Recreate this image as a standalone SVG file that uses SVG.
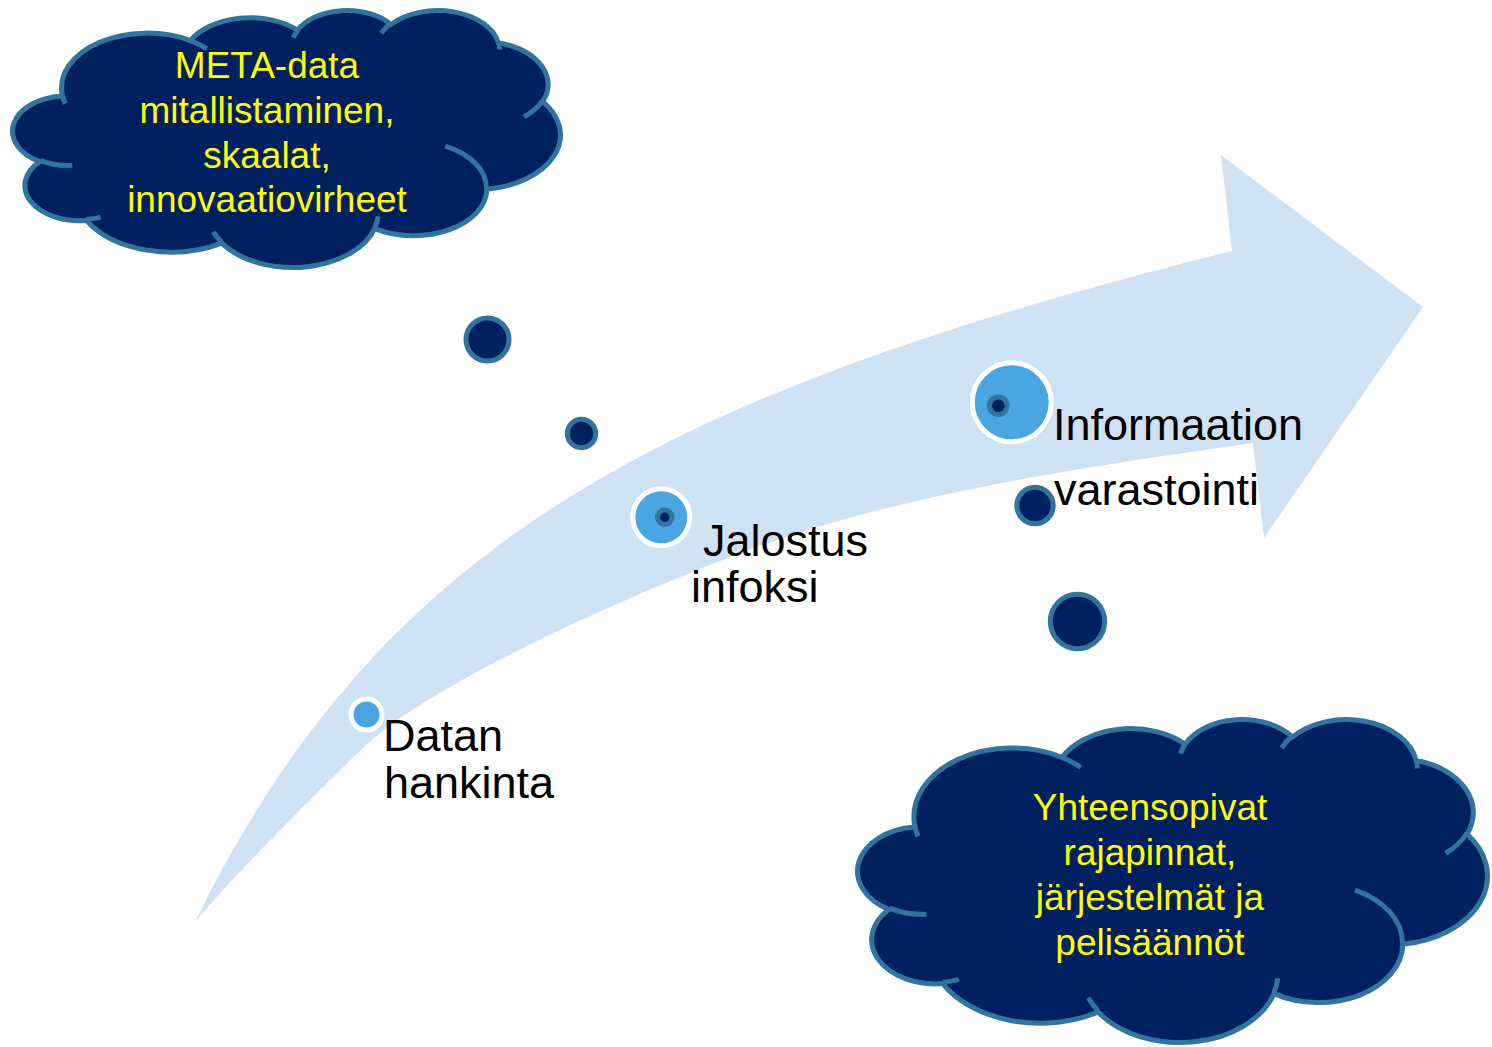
<svg xmlns="http://www.w3.org/2000/svg" width="1492" height="1047" viewBox="0 0 1492 1047">
  <style>
    .cloud { fill: #002060; stroke: #31759F; stroke-width: 5; vector-effect: non-scaling-stroke; }
    .cloudline { fill: none; stroke: #31759F; stroke-width: 5; vector-effect: non-scaling-stroke; }
    .ctext { font-family: "Liberation Sans", Arial, sans-serif; font-size: 37px; fill: #FFFF00; text-anchor: middle; }
    .label { font-family: "Liberation Sans", Arial, sans-serif; font-size: 45px; fill: #000000; }
    .dark { fill: #002060; stroke: #31759F; stroke-width: 5; }
    .light { fill: #4AA6E0; stroke: #FFFFFF; stroke-width: 5; }
  </style>

  <g id="arrow">
    <path fill="#CFE2F3" d="M195,922 C382,540 665,392 1232,251 L1221,155 L1423,307 L1264,538 L1253,443 C1079.8,468.2 893.1,493.7 730,557 C608.8,604.1 427.8,685.9 363,748 C319.8,789.4 233.4,875.8 195,922 Z"/>
  </g>

  <g id="connectors"></g>

  <g id="cloud-meta">
    <g transform="translate(12.94,9.67) scale(0.012668,0.0059464)">
      <path class="cloud" d="M3900,14370 A6753,9190 0 0 1 14005,5203 A5333,7267 0 0 1 22458,3432 A4365,5945 0 0 1 29835,2480 A4857,6595 0 0 1 38320,5576 A5333,7273 0 0 1 41820,15460 A6775,9220 0 0 1 37407,30204 A5785,7867 0 0 1 28558,36814 A6752,9215 0 0 1 16484,39267 A7720,10543 0 0 1 5807,35472 A4360,5918 0 0 1 2114,25552 A4345,5945 0 0 1 3864,14508 Z"/>
      <path class="cloudline" d="M4693,26177 A4345,5945 0 0 1 2160,25380 M6928,34899 A4360,5918 0 0 1 5820,35280 M16478,39090 A6752,9215 0 0 1 15809,37348 M28827,34751 A6752,9215 0 0 1 28560,36660 M34129,22954 A5785,7867 0 0 1 37381,30090 M41798,15354 A5333,7273 0 0 1 40349,18031 M38324,5426 A4857,6595 0 0 1 38400,6690 M29078,3952 A4857,6595 0 0 1 29821,2338 M22141,4720 A4365,5945 0 0 1 22500,3331 M14000,5192 A6753,9190 0 0 1 15301,6542 M4127,15789 A6753,9190 0 0 1 3900,14371"/>
    </g>
    <text class="ctext" x="267" y="78">META-data</text>
    <text class="ctext" x="267" y="123">mitallistaminen,</text>
    <text class="ctext" x="267" y="168">skaalat,</text>
    <text class="ctext" x="267" y="212">innovaatiovirheet</text>
  </g>

  <g id="cloud-yhteensopivat">
    <g transform="translate(858,718.5) scale(0.014564,0.0074736)">
      <path class="cloud" d="M3900,14370 A6753,9190 0 0 1 14005,5203 A5333,7267 0 0 1 22458,3432 A4365,5945 0 0 1 29835,2480 A4857,6595 0 0 1 38320,5576 A5333,7273 0 0 1 41820,15460 A6775,9220 0 0 1 37407,30204 A5785,7867 0 0 1 28558,36814 A6752,9215 0 0 1 16484,39267 A7720,10543 0 0 1 5807,35472 A4360,5918 0 0 1 2114,25552 A4345,5945 0 0 1 3864,14508 Z"/>
      <path class="cloudline" d="M4693,26177 A4345,5945 0 0 1 2160,25380 M6928,34899 A4360,5918 0 0 1 5820,35280 M16478,39090 A6752,9215 0 0 1 15809,37348 M28827,34751 A6752,9215 0 0 1 28560,36660 M34129,22954 A5785,7867 0 0 1 37381,30090 M41798,15354 A5333,7273 0 0 1 40349,18031 M38324,5426 A4857,6595 0 0 1 38400,6690 M29078,3952 A4857,6595 0 0 1 29821,2338 M22141,4720 A4365,5945 0 0 1 22500,3331 M14000,5192 A6753,9190 0 0 1 15301,6542 M4127,15789 A6753,9190 0 0 1 3900,14371"/>
    </g>
    <text class="ctext" x="1150" y="820">Yhteensopivat</text>
    <text class="ctext" x="1150" y="865">rajapinnat,</text>
    <text class="ctext" x="1150" y="910">järjestelmät ja</text>
    <text class="ctext" x="1150" y="955">pelisäännöt</text>
  </g>

  <g id="dot-1"><circle class="dark" cx="487.5" cy="339.5" r="21.5"/></g>
  <g id="dot-2"><circle class="dark" cx="581.5" cy="433.5" r="14.2"/></g>
  <g id="dot-3"><circle class="dark" cx="1035" cy="505.5" r="18.2"/></g>
  <g id="dot-4"><circle class="dark" cx="1077.5" cy="621.5" r="27.2"/></g>

  <g id="node-datan">
    <circle class="light" cx="366.5" cy="714.5" r="15.5"/>
    <text class="label" x="383" y="751">Datan</text>
    <text class="label" x="384" y="798">hankinta</text>
  </g>

  <g id="node-jalostus">
    <circle class="light" cx="661.3" cy="517.3" r="28.5"/>
    <circle class="dark" cx="664.7" cy="517.3" r="7.2"/>
    <text class="label" x="703" y="556">Jalostus</text>
    <text class="label" x="691" y="602">infoksi</text>
  </g>

  <g id="node-informaatio">
    <circle class="light" cx="1011.7" cy="402.3" r="39.5"/>
    <circle class="dark" cx="998.3" cy="405.7" r="8.8"/>
    <text class="label" x="1053" y="440">Informaation</text>
    <text class="label" x="1054" y="505">varastointi</text>
  </g>
</svg>
